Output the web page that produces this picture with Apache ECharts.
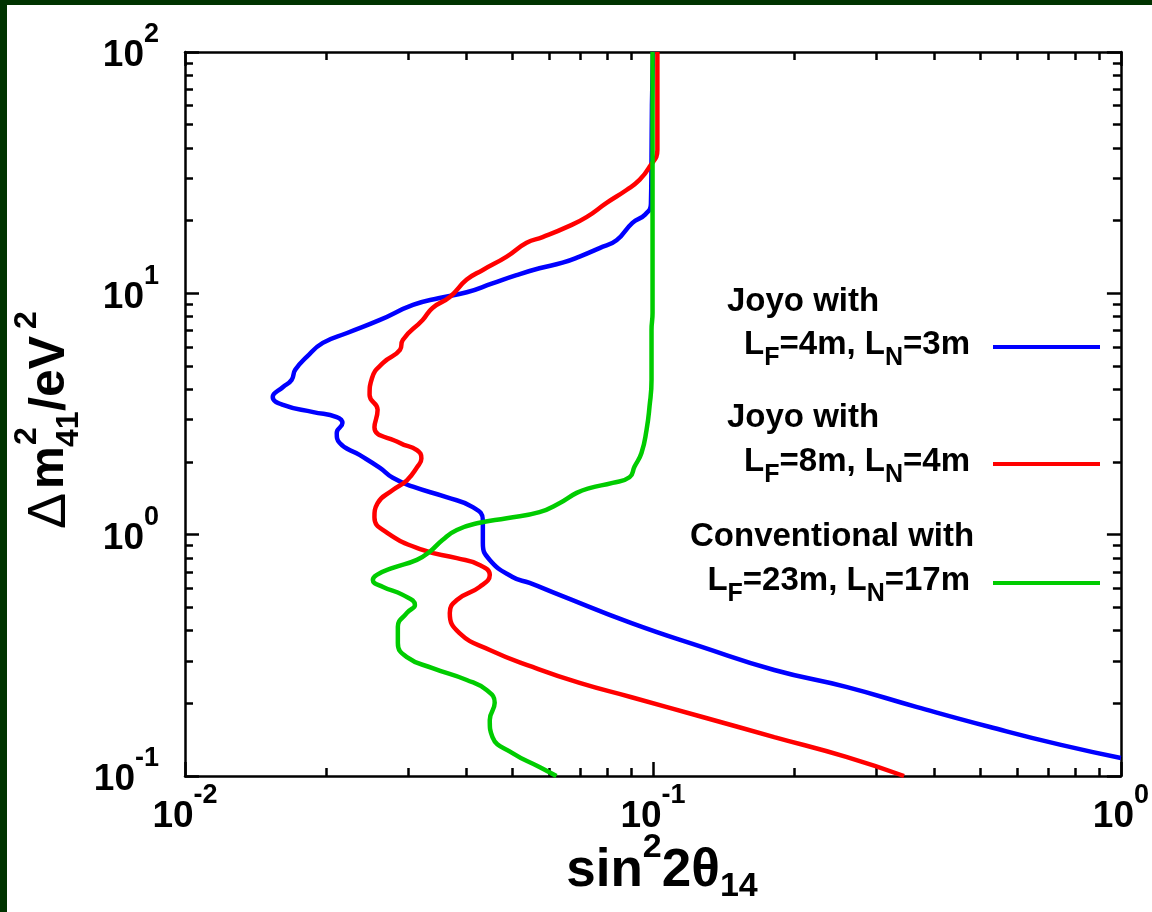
<!DOCTYPE html>
<html>
<head>
<meta charset="utf-8">
<title>sin^2 2theta14 vs dm^2_41</title>
<script src="https://cdn.jsdelivr.net/npm/echarts@6/dist/echarts.min.js"></script>
<style>
html, body { margin: 0; padding: 0; background: #fff; }
#chart { width: 1152px; height: 912px; }
</style>
</head>
<body>
<div id="chart"></div>
<script>
// 曲线数据: x = sin^2 2θ14, y = Δm^2_41 (eV^2)，按曲线走向排列
const blueX = [0.1, 0.0995, 0.0993, 0.0990, 0.0962, 0.0904, 0.0836, 0.0769, 0.0697, 0.0641,
	0.0572, 0.0511, 0.0454, 0.0400, 0.0350, 0.0307, 0.0261, 0.0222, 0.0197, 0.0182,
	0.0172, 0.0169, 0.0162, 0.0154, 0.0162, 0.0188, 0.0211, 0.0217, 0.0211, 0.0214,
	0.0236, 0.0261, 0.0278, 0.0307, 0.0362, 0.0412, 0.0433, 0.0433, 0.0448, 0.0501,
	0.0545, 0.0631, 0.0900, 0.1276, 0.1816, 0.2588, 0.3669, 0.5228, 0.7444, 1.0];
const blueY = [100, 60, 36.7, 23.5, 21.2, 19.6, 16.6, 15.4, 14.2, 13.4,
	12.7, 11.9, 11.0, 10.1, 9.57, 8.95, 7.76, 6.85, 6.23, 5.45,
	4.82, 4.38, 4.09, 3.72, 3.45, 3.22, 3.07, 2.90, 2.64, 2.40,
	2.14, 1.89, 1.72, 1.58, 1.43, 1.30, 1.15, 0.924, 0.786, 0.668,
	0.631, 0.563, 0.430, 0.342, 0.275, 0.234, 0.193, 0.160, 0.1345, 0.1188];

const redX = [0.1022, 0.1022, 0.0983, 0.0936, 0.0878, 0.0796, 0.0721, 0.0654, 0.0581, 0.0537,
	0.0487, 0.0433, 0.0400, 0.0368, 0.0338, 0.0322, 0.0292, 0.0288, 0.0265, 0.0251,
	0.0248, 0.0258, 0.0254, 0.0288, 0.0313, 0.0320, 0.0313, 0.0298, 0.0278, 0.0258,
	0.0254, 0.0270, 0.0322, 0.0381, 0.0426, 0.0448, 0.0426, 0.0381, 0.0368, 0.0386,
	0.0448, 0.0553, 0.0697, 0.0900, 0.1276, 0.1816, 0.2588, 0.344];
const redY = [100, 39.3, 33.4, 29.5, 26.8, 23.7, 20.7, 18.8, 17.1, 16.2,
	14.2, 12.5, 11.4, 9.66, 8.70, 7.76, 6.41, 5.83, 5.15, 4.46,
	3.79, 3.29, 2.79, 2.40, 2.24, 2.07, 1.90, 1.68, 1.53, 1.35,
	1.18, 1.02, 0.864, 0.800, 0.749, 0.681, 0.607, 0.536, 0.474, 0.391,
	0.333, 0.283, 0.243, 0.212, 0.1756, 0.145, 0.120, 0.1];

const greenX = [0.0998, 0.0998, 0.0998, 0.0993, 0.0993, 0.0983, 0.0969, 0.0945, 0.0913, 0.0891,
	0.0820, 0.0732, 0.0687, 0.0631, 0.0572, 0.0487, 0.0426, 0.0381, 0.0355, 0.0333,
	0.0313, 0.0278, 0.0257, 0.0252, 0.0265, 0.0292, 0.0310, 0.0298, 0.0285, 0.0285,
	0.0298, 0.0338, 0.0400, 0.0441, 0.0459, 0.0448, 0.0454, 0.0501, 0.0572, 0.0622];
const greenY = [100, 11.4, 8.29, 7.05, 4.38, 3.38, 2.72, 2.18, 1.91, 1.73,
	1.64, 1.56, 1.49, 1.35, 1.24, 1.17, 1.12, 1.046, 0.951, 0.848,
	0.786, 0.728, 0.681, 0.649, 0.607, 0.563, 0.511, 0.474, 0.415, 0.356,
	0.311, 0.280, 0.250, 0.227, 0.201, 0.1707, 0.145, 0.1245, 0.109, 0.1];

// 刻度
const xMajor = [0.01, 0.1, 1];
const xMinor = [0.02, 0.03, 0.04, 0.05, 0.06, 0.07, 0.08, 0.09, 0.2, 0.3, 0.4, 0.5, 0.6, 0.7, 0.8, 0.9];
const yMajor = [0.1, 1, 10, 100];
const yMinor = [0.2, 0.3, 0.4, 0.5, 0.6, 0.7, 0.8, 0.9, 2, 3, 4, 5, 6, 7, 8, 9, 20, 30, 40, 50, 60, 70, 80, 90];

// 图例文字
const legendTitles = ['Joyo with', 'Joyo with', 'Conventional with'];
const legendLengths = ['{b|L}{s|F}{b|=4m, L}{s|N}{b|=3m}', '{b|L}{s|F}{b|=8m, L}{s|N}{b|=4m}', '{b|L}{s|F}{b|=23m, L}{s|N}{b|=17m}'];
const seriesColors = ['#0000ff', '#ff0000', '#00cc00'];

const FONT = '"Liberation Sans", Arial, sans-serif';
const pairs = (xs, ys) => xs.map((x, i) => [x, ys[i]]);

const chart = echarts.init(document.getElementById('chart'));

const labelRich = {
	m: { fontSize: 37, fontWeight: 'bold', fontFamily: FONT, color: '#000', padding: [8, 0, 0, 0] },
	e: { fontSize: 27, fontWeight: 'bold', fontFamily: FONT, color: '#000', padding: [0, 0, 34, 0] }
};
const expLabel = (v) => '{m|10}{e|' + Math.round(Math.log10(v)) + '}';

// 对数坐标轴，主刻度/次刻度各用一根轴叠在一起
const logAxis = (pos, min, max, ticks, len, withLine, label) => ({
	type: 'log',
	logBase: 10,
	min: min,
	max: max,
	position: pos,
	axisLine: { show: withLine, onZero: false, lineStyle: { color: '#000', width: 2.5 } },
	axisTick: { show: true, inside: true, length: len, customValues: ticks, lineStyle: { color: '#000', width: 2.5 } },
	axisLabel: label || { show: false },
	splitLine: { show: false },
	minorTick: { show: false }
});

const xLabel = { show: true, margin: 6, formatter: expLabel, rich: labelRich, customValues: xMajor };
const yLabel = { show: true, margin: 26, formatter: expLabel, rich: labelRich, customValues: yMajor };

const seriesNames = ['Joyo 4m/3m', 'Joyo 8m/4m', 'Conventional 23m/17m'];
const seriesData = [pairs(blueX, blueY), pairs(redX, redY), pairs(greenX, greenY)];

const legendY = [347, 464, 583];
const titleY = [302, 418, 537];
const titleX = [727, 727, 690];
const legendGraphics = [];
legendTitles.forEach((t, i) => {
	legendGraphics.push({
		type: 'text', x: titleX[i], y: titleY[i],
		style: { text: t, fontSize: 33, fontWeight: 'bold', fontFamily: FONT, fill: '#000', align: 'left', verticalAlign: 'middle' }
	});
	legendGraphics.push({
		type: 'text', x: 970, y: legendY[i] - 2,
		style: {
			text: legendLengths[i], fill: '#000', align: 'right', verticalAlign: 'middle',
			rich: {
				b: { fontSize: 33, fontWeight: 'bold', fontFamily: FONT, fill: '#000' },
				s: { fontSize: 25, fontWeight: 'bold', fontFamily: FONT, fill: '#000', padding: [27, 0, 0, 0] }
			}
		}
	});
	legendGraphics.push({
		type: 'line',
		shape: { x1: 993, y1: legendY[i], x2: 1100, y2: legendY[i] },
		style: { stroke: seriesColors[i], lineWidth: 4 }
	});
});

const bold = (size) => ({ fontSize: size, fontWeight: 'bold', fontFamily: FONT, fill: '#000' });

const option = {
	animation: false,
	backgroundColor: '#ffffff',
	grid: { left: 185, top: 52, right: 30, bottom: 136 },
	xAxis: [
		logAxis('bottom', 0.01, 1, xMajor, 14, true, xLabel),
		logAxis('bottom', 0.01, 1, xMinor, 8, false),
		logAxis('top', 0.01, 1, xMajor, 14, true),
		logAxis('top', 0.01, 1, xMinor, 8, false)
	],
	yAxis: [
		logAxis('left', 0.1, 100, yMajor, 14, true, yLabel),
		logAxis('left', 0.1, 100, yMinor, 8, false),
		logAxis('right', 0.1, 100, yMajor, 14, true),
		logAxis('right', 0.1, 100, yMinor, 8, false)
	],
	series: seriesData.map((d, i) => ({
		name: seriesNames[i],
		type: 'line',
		xAxisIndex: 0,
		yAxisIndex: 0,
		data: d,
		showSymbol: false,
		smooth: 0.5,
		lineStyle: { color: seriesColors[i], width: 4.5 },
		itemStyle: { color: seriesColors[i] }
	})),
	graphic: [
		// 深绿色边框
		{ type: 'rect', shape: { x: 0, y: 0, width: 1152, height: 5 }, style: { fill: '#003300' } },
		{ type: 'rect', shape: { x: 0, y: 0, width: 7, height: 912 }, style: { fill: '#003300' } },
		// y 轴标题 (旋转)
		{
			type: 'group', x: 50, y: 527, rotation: Math.PI / 2,
			children: [
				{ type: 'text', x: -2, y: 0, style: { text: 'Δ', fontSize: 54, fontFamily: FONT, fill: '#000', align: 'left', verticalAlign: 'middle' } },
				{ type: 'text', x: 38, y: 0, style: Object.assign(bold(48), { text: 'm', align: 'left', verticalAlign: 'middle' }) },
				{ type: 'text', x: 82, y: -23, style: Object.assign(bold(32), { text: '2', align: 'left', verticalAlign: 'middle' }) },
				{ type: 'text', x: 80, y: 19, style: Object.assign(bold(32), { text: '41', align: 'left', verticalAlign: 'middle' }) },
				{ type: 'text', x: 116, y: 0, style: Object.assign(bold(50), { text: '/eV', align: 'left', verticalAlign: 'middle' }) },
				{ type: 'text', x: 198, y: -23, style: Object.assign(bold(32), { text: '2', align: 'left', verticalAlign: 'middle' }) }
			]
		},
		// x 轴标题
		{
			type: 'text', x: 662, y: 871,
			style: {
				text: '{b|sin}{sup|2}{b|2θ}{sub|14}', fill: '#000', align: 'center', verticalAlign: 'middle',
				rich: {
					b: { fontSize: 53, fontWeight: 'bold', fontFamily: FONT, fill: '#000' },
					sup: { fontSize: 34, fontWeight: 'bold', fontFamily: FONT, fill: '#000', padding: [0, 0, 46, 0] },
					sub: { fontSize: 34, fontWeight: 'bold', fontFamily: FONT, fill: '#000', padding: [32, 0, 0, 0] }
				}
			}
		}
	].concat(legendGraphics)
};

chart.setOption(option);
</script>
</body>
</html>
